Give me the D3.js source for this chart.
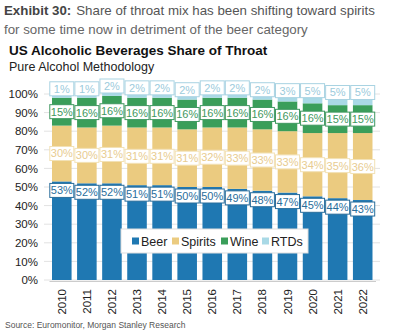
<!DOCTYPE html>
<html><head><meta charset="utf-8">
<script src="https://cdn.jsdelivr.net/npm/d3@7"></script>
<style>body{margin:0;background:#fff;}svg{display:block;font-family:"Liberation Sans",Arial,sans-serif;}</style>
</head><body><svg id="c" width="395" height="334"></svg>
<script>
const years = ["2010","2011","2012","2013","2014","2015","2016","2017","2018","2019","2020","2021","2022"];
const beer = [53,52,52,51,51,50,50,49,48,47,45,44,43];
const spirits = [30,30,31,31,31,31,32,33,33,33,34,35,36];
const wine = [15,16,16,16,16,16,16,16,16,16,16,15,15];
const rtds = [1,1,2,2,2,2,2,2,2,3,5,5,5];
const seriesNames = ["Beer","Spirits","Wine","RTDs"];
const yTicks = [0,10,20,30,40,50,60,70,80,90,100];

const colors = {Beer:"#1f78b2", Spirits:"#ebcb80", Wine:"#3a9e5a", RTDs:"#a9d9e6"};
const textColors = {Beer:"#2a6e9c", Spirits:"#e8cc90", Wine:"#3f9860", RTDs:"#9ccbdc"};
const borderColors = {Beer:"#2a6e9c", Spirits:"#f2e1b5", Wine:"#3f9860", RTDs:"#a9d3e2"};

const svg = d3.select("#c");
const data = years.map((y,i)=>({year:y, Beer:beer[i], Spirits:spirits[i], Wine:wine[i], RTDs:rtds[i]}));

const x = d3.scaleBand().domain(years).range([49,375.5]).paddingInner(0.22).paddingOuter(0.12);
const y = d3.scaleLinear().domain([0,100]).range([280,94]);

// titles
const t1 = svg.append("text").attr("x",4).attr("y",15).attr("font-size",13.3).attr("fill","#555");
t1.append("tspan").attr("font-weight","bold").attr("fill","#444").text("Exhibit 30:");
t1.append("tspan").attr("dx",5).text("Share of throat mix has been shifting toward spirits");
svg.append("text").attr("x",4).attr("y",34).attr("font-size",13.3).attr("fill","#666").text("for some time now in detriment of the beer category");
svg.append("text").attr("x",9).attr("y",55).attr("font-size",13.5).attr("font-weight","bold").attr("fill","#111").text("US Alcoholic Beverages Share of Throat");
svg.append("text").attr("x",9).attr("y",71).attr("font-size",12.5).attr("fill","#222").text("Pure Alcohol Methodology");

// grid
svg.append("g").selectAll("line").data(yTicks).join("line")
  .attr("x1",44).attr("x2",380).attr("y1",d=>y(d)).attr("y2",d=>y(d))
  .attr("stroke","#e2e2e2").attr("stroke-width",1);

// y axis
const yAxis = d3.axisLeft(y).tickValues(yTicks).tickFormat(d=>d+"%").tickSize(0).tickPadding(0);
const yg = svg.append("g").attr("transform","translate(38,0)").call(yAxis);
yg.select(".domain").remove();
yg.selectAll("text").attr("font-size",11.5).attr("fill","#222").attr("font-family","Liberation Sans, Arial, sans-serif");

// x axis
const xAxis = d3.axisBottom(x).tickSize(0).tickPadding(0);
const xg = svg.append("g").attr("transform","translate(0,281)").call(xAxis);
xg.select(".domain").attr("stroke","#ccc");
xg.selectAll("text").attr("font-size",11.5).attr("fill","#222").attr("font-family","Liberation Sans, Arial, sans-serif")
  .attr("transform","rotate(-90)").attr("text-anchor","end").attr("dx","-8").attr("dy","0.35em").attr("x",0).attr("y",0);

// stacked bars
const stack = d3.stack().keys(seriesNames)(data);
svg.append("g").selectAll("g").data(stack).join("g").attr("fill",d=>colors[d.key])
  .selectAll("rect").data(d=>d).join("rect")
  .attr("x",d=>x(d.data.year)).attr("width",x.bandwidth())
  .attr("y",d=>y(d[1])).attr("height",d=>y(d[0])-y(d[1]));

// labels
const labG = svg.append("g");
stack.forEach(s=>{
  s.forEach(d=>{
    let cy;
    if (s.key==="Beer") cy = y(d[1]) + 9;
    else if (s.key==="RTDs") cy = y((d[0]+d[1])/2) - 8;
    else cy = y((d[0]+d[1])/2);
    const cx = x(d.data.year) + x.bandwidth()/2;
    const g = labG.append("g").attr("transform",`translate(${cx},${cy})`);
    const w = 24, h = 14;
    g.append("rect").attr("x",-w/2).attr("y",-h/2).attr("width",w).attr("height",h)
      .attr("fill","#fff").attr("stroke",borderColors[s.key]).attr("stroke-width",1);
    g.append("text").attr("text-anchor","middle").attr("dy","0.36em").attr("font-size",11)
      .attr("fill",textColors[s.key]).text(d.data[s.key]+"%");
  });
});

// legend
const lg = svg.append("g").attr("transform","translate(121,229)");
lg.append("rect").attr("width",187).attr("height",24).attr("fill","#fff").attr("stroke","#ddd");
const lx = [11,51,100,141];
seriesNames.forEach((n,i)=>{
  lg.append("rect").attr("x",lx[i]).attr("y",8.5).attr("width",7).attr("height",7).attr("fill",colors[n]);
  lg.append("text").attr("x",lx[i]+9).attr("y",16.8).attr("font-size",12.5).attr("fill","#222").text(n);
});

// source
svg.append("text").attr("x",5).attr("y",328).attr("font-size",8.5).attr("fill","#555").text("Source: Euromonitor, Morgan Stanley Research");
</script></body></html>
